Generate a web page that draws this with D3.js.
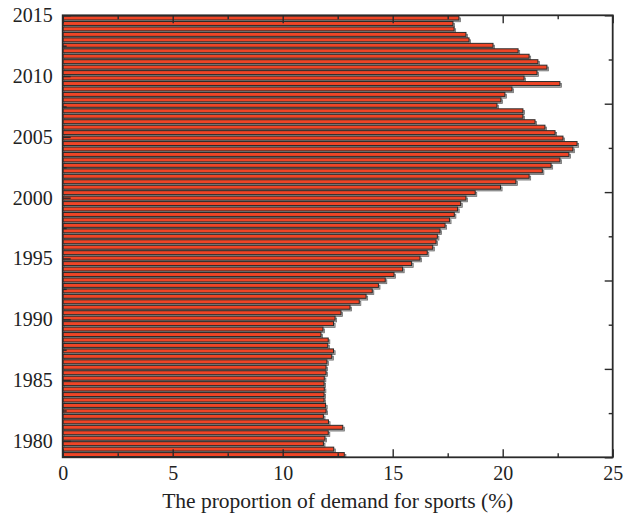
<!DOCTYPE html>
<html>
<head>
<meta charset="utf-8">
<script src="https://cdn.jsdelivr.net/npm/d3@7"></script>
<style>
  body { margin: 0; background: #fff; }
  text { font-family: "Liberation Serif", "DejaVu Serif", serif; fill: #222; }
</style>
</head>
<body>
<svg id="chart" width="633" height="515"></svg>
<script>
// Proportion of demand for sports (%), one value per sample, newest (top) first
const demandShare = [
  18.01, 17.74, 17.79, 18.33, 18.47, 19.56, 20.70, 21.20, 21.60, 22.01,
  21.56, 20.97, 22.60, 20.42, 20.10, 19.92, 19.74, 20.92, 20.92, 21.47,
  21.92, 22.38, 22.74, 23.38, 23.19, 23.01, 22.60, 22.20, 21.80, 21.20,
  20.60, 19.90, 18.75, 18.33, 18.09, 17.95, 17.80, 17.58, 17.38, 17.15,
  17.03, 16.97, 16.82, 16.57, 16.24, 15.86, 15.45, 15.06, 14.66, 14.35,
  14.07, 13.79, 13.48, 13.06, 12.65, 12.38, 12.31, 11.83, 11.74, 12.07,
  12.05, 12.31, 12.23, 12.01, 11.97, 11.97, 11.89, 11.88, 11.89, 11.88,
  11.88, 11.95, 11.97, 11.85, 12.08, 12.73, 12.07, 11.92, 11.85, 12.32,
  12.80
];
const yearTicks = [1980, 1985, 1990, 1995, 2000, 2005, 2010, 2015];
const yearMinorTicks = [1982.5, 1987.5, 1992.5, 1997.5, 2002.5, 2007.5, 2012.5];
const yearDomain = [1978.65, 2015];
const shareTicks = [0, 5, 10, 15, 20, 25];
const shareMinorTicks = [2.5, 7.5, 12.5, 17.5, 22.5];
const rightTicks = [0, 1, 2, 3, 4, 5, 6, 7, 8, 9, 10];
const xTitle = "The proportion of demand for sports (%)";

const svg = d3.select("#chart");
const plotLeft = 62.7, plotRight = 612.7, plotTop = 15.3, plotBottom = 457.3;

const x = d3.scaleLinear().domain([0, 25]).range([plotLeft, plotRight]);
const yYear = d3.scaleLinear().domain(yearDomain).range([plotBottom, plotTop]);
const yBar = d3.scaleBand()
  .domain(d3.range(demandShare.length))
  .range([plotTop, plotBottom])
  .paddingInner(0.28)
  .paddingOuter(0.14);
const yRight = d3.scaleLinear().domain([0, 10]).range([plotBottom, plotTop]);

svg.append("defs").append("clipPath").attr("id", "plot")
  .append("rect").attr("x", plotLeft).attr("y", plotTop)
  .attr("width", plotRight - plotLeft).attr("height", plotBottom - plotTop);

const plot = svg.append("g").attr("clip-path", "url(#plot)");

// drop shadows behind the bars
plot.append("g").selectAll("rect")
  .data(demandShare)
  .join("rect")
  .attr("x", x(0) + 1.6)
  .attr("y", (d, i) => yBar(i) + 1.8)
  .attr("width", d => x(d) - x(0))
  .attr("height", yBar.bandwidth())
  .attr("fill", "#a8a8a8")
  .attr("stroke", "#666")
  .attr("stroke-width", 0.7);

// bars
plot.append("g").selectAll("rect")
  .data(demandShare)
  .join("rect")
  .attr("x", x(0))
  .attr("y", (d, i) => yBar(i))
  .attr("width", d => x(d) - x(0))
  .attr("height", yBar.bandwidth())
  .attr("fill", "#ef4526")
  .attr("stroke", "#2a2a2a")
  .attr("stroke-width", 1);

const fontSize = "20px";

function styleAxis(g) {
  g.select(".domain").remove();
  g.selectAll(".tick line").attr("stroke", "#2a2a2a").attr("stroke-width", 1.4);
  g.selectAll("text").attr("font-size", fontSize)
    .attr("font-family", "Liberation Serif, serif").attr("fill", "#222");
}

// bottom axis
svg.append("g").attr("transform", `translate(0,${plotBottom})`)
  .call(d3.axisBottom(x).tickValues(shareTicks).tickFormat(d3.format("d"))
    .tickSizeInner(-8).tickSizeOuter(0).tickPadding(9))
  .call(styleAxis);
svg.append("g").attr("transform", `translate(0,${plotBottom})`)
  .call(d3.axisBottom(x).tickValues(shareMinorTicks).tickFormat("")
    .tickSizeInner(-4).tickSizeOuter(0))
  .call(styleAxis);

// top axis
svg.append("g").attr("transform", `translate(0,${plotTop})`)
  .call(d3.axisTop(x).tickValues(shareTicks).tickFormat("")
    .tickSizeInner(-8).tickSizeOuter(0))
  .call(styleAxis);
svg.append("g").attr("transform", `translate(0,${plotTop})`)
  .call(d3.axisTop(x).tickValues(shareMinorTicks).tickFormat("")
    .tickSizeInner(-4).tickSizeOuter(0))
  .call(styleAxis);

// left axis (years)
svg.append("g").attr("transform", `translate(${plotLeft},0)`)
  .call(d3.axisLeft(yYear).tickValues(yearTicks).tickFormat(d3.format("d"))
    .tickSizeInner(-8).tickSizeOuter(0).tickPadding(10))
  .call(styleAxis);
svg.append("g").attr("transform", `translate(${plotLeft},0)`)
  .call(d3.axisLeft(yYear).tickValues(yearMinorTicks).tickFormat("")
    .tickSizeInner(-4).tickSizeOuter(0))
  .call(styleAxis);

// right axis, unlabelled
svg.append("g").attr("transform", `translate(${plotRight},0)`)
  .call(d3.axisRight(yRight).tickValues(rightTicks.filter(d => d % 2 === 0)).tickFormat("")
    .tickSizeInner(-8).tickSizeOuter(0))
  .call(styleAxis);
svg.append("g").attr("transform", `translate(${plotRight},0)`)
  .call(d3.axisRight(yRight).tickValues(rightTicks.filter(d => d % 2 === 1)).tickFormat("")
    .tickSizeInner(-4).tickSizeOuter(0))
  .call(styleAxis);

// frame
svg.append("rect")
  .attr("x", plotLeft).attr("y", plotTop)
  .attr("width", plotRight - plotLeft).attr("height", plotBottom - plotTop)
  .attr("fill", "none").attr("stroke", "#2a2a2a").attr("stroke-width", 1.8);

// axis title
svg.append("text")
  .attr("x", (plotLeft + plotRight) / 2)
  .attr("y", 508)
  .attr("text-anchor", "middle")
  .attr("font-size", "21.5px")
  .text(xTitle);
</script>
</body>
</html>
